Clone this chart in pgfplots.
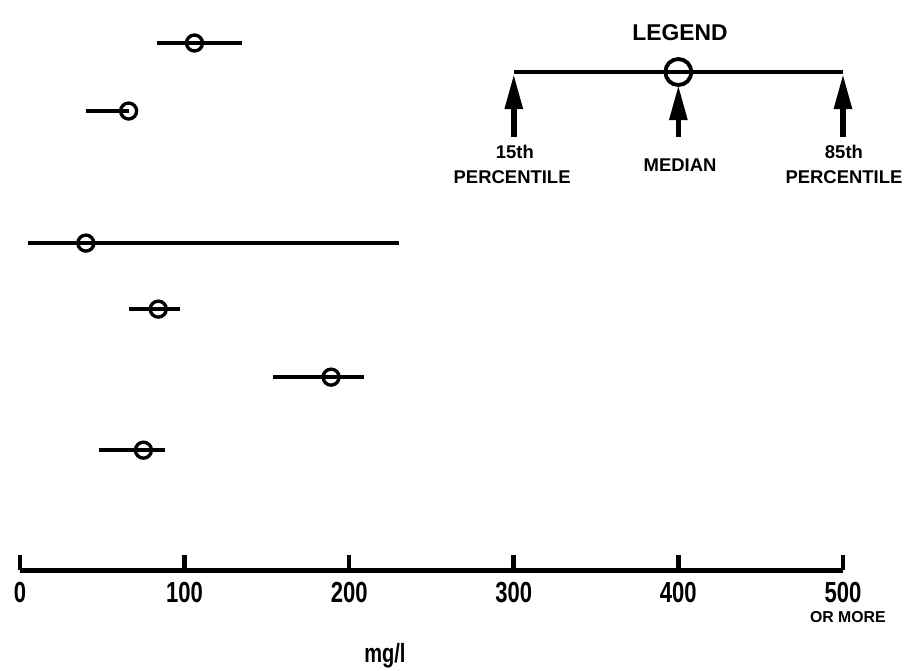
\documentclass[border=0pt]{standalone}
\usepackage{fontspec}
\setmainfont{Liberation Sans}
\newfontfamily\condsans{Liberation Sans}[FakeStretch=0.76]
\usepackage{pgfplots}
\pgfplotsset{compat=1.18}
\usepackage{pgfplotstable}
\usetikzlibrary{arrows.meta}

% 15th percentile, median, 85th percentile (mg/l), row position
\pgfplotstableread{
lo   med  hi   y
83   106  135  527
40   66   66   459
5    40   230  327
66   84   97   261
154  189  209  193
48   75   88   120
}\rows

\begin{document}
\begin{tikzpicture}
\begin{axis}[
    x=0.03292cm, y=0.02cm,
    xmin=0, xmax=500, ymin=0, ymax=570,
    axis x line=bottom, axis y line=none,
    x axis line style={-, line width=2.8pt},
    xtick={0,100,...,500},
    tick align=inside,
    major tick length=0.3cm,
    tick style={line width=2.6pt, black},
    /pgf/number format/assume math mode=true,
    xticklabel style={font=\condsans\bfseries\fontsize{16.5}{16.5}\selectfont,
        anchor=center, inner sep=0pt, yshift=-0.45cm},
    clip=false,
]
\addplot[black, line width=1.9pt, mark=o, mark size=0.16cm,
    mark options={line width=1.9pt},
    only marks,
    error bars/.cd, x dir=both, x explicit, error mark=none,
    error bar style={line width=1.9pt}]
  table[x=med, y=y,
        x error plus expr=\thisrow{hi}-\thisrow{med},
        x error minus expr=\thisrow{med}-\thisrow{lo}] {\rows};

% legend
\addplot[black, line width=2.2pt] coordinates {(300,498) (500,498)};
\addplot[black, only marks, mark=o, mark size=0.26cm, mark options={line width=2.2pt}]
  coordinates {(400,498)};
\foreach \xx/\tip in {300/496, 400/485, 500/496}{
  \edef\tmp{\noexpand\draw[line width=3.2pt, -{Triangle[length=0.7cm,width=0.34cm]}]
    (axis cs:\xx,433) -- (axis cs:\xx,\tip);}\tmp
}
\node[font=\bfseries\fontsize{13}{13}\selectfont] at (axis cs:401,537) {LEGEND};
\node[font=\bfseries\fontsize{10.5}{10.5}\selectfont] at (axis cs:300.7,418) {15th};
\node[font=\bfseries\fontsize{10.5}{10.5}\selectfont] at (axis cs:299,393) {PERCENTILE};
\node[font=\bfseries\fontsize{10.5}{10.5}\selectfont] at (axis cs:401,405) {MEDIAN};
\node[font=\bfseries\fontsize{10.5}{10.5}\selectfont] at (axis cs:500.6,418) {85th};
\node[font=\bfseries\fontsize{10.5}{10.5}\selectfont] at (axis cs:500.6,393) {PERCENTILE};
\node[font=\bfseries\fontsize{9}{9}\selectfont, inner sep=0pt] at (axis cs:503,-47) {OR MORE};
\node[font=\condsans\bfseries\fontsize{15}{15}\selectfont] at (axis cs:221.7,-85) {mg/l};

\coordinate (bl) at (axis cs:-12.15,-100);
\coordinate (tr) at (axis cs:538.3,570);
\end{axis}
\pgfresetboundingbox
\useasboundingbox (bl) rectangle (tr);
\end{tikzpicture}
\end{document}
